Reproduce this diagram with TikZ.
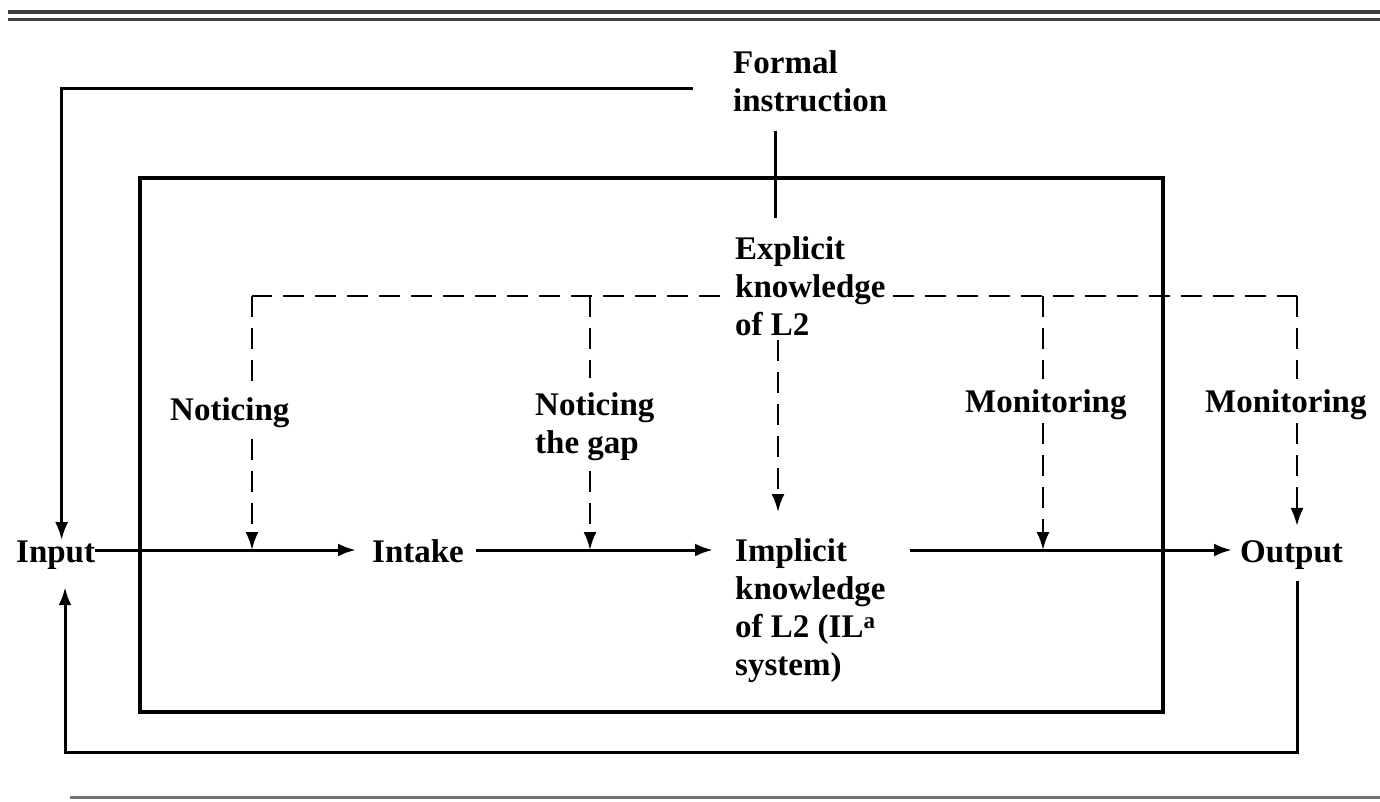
\documentclass[tikz,border=0pt]{standalone}
\usepackage{fontspec}
\setmainfont{Liberation Serif}
\usetikzlibrary{arrows.meta,calc}
\begin{document}
\begin{tikzpicture}[x=1pt,y=-1pt,
  txt/.style={font=\fontsize{33}{38}\selectfont\bfseries, inner sep=0pt, align=left, anchor=north west},
  btxt/.style={txt, anchor=base west},
  conn/.style={line width=3pt},
  arr/.style={-{Latex[length=18pt,width=13pt]}},
  dsh/.style={line width=2.4pt, dash pattern=on 21pt off 11pt},
  rule/.style={line width=4pt, black!75}
]
\useasboundingbox (0,0) rectangle (1380,802);
% rules
\draw[rule] (8,12) -- (1380,12);
\draw[rule, line width=3pt] (8,20) -- (1380,20);
\draw[rule, line width=3pt, black!55] (70,797) -- (1380,797);
% box
\draw[line width=3.5pt] (140,178) rectangle (1163,712);
% text nodes
\node[txt] (formal) at (733,50) {Formal\\instruction};
\node[txt] (explicit) at (735,236) {Explicit\\knowledge\\of L2};
\node[btxt] (input) at (16,562) {Input};
\node[btxt] (intake) at (372,562) {Intake};
\node[txt] (implicit) at (735,538) {Implicit\\knowledge\\of L2 (IL\textsuperscript{a}\\system)};
\node[btxt] (output) at (1240,562) {Output};
\node[btxt] (notice) at (170,420) {Noticing};
\node[txt] (gap) at (535,392) {Noticing\\the gap};
\node[btxt] (mon1) at (965,412) {Monitoring};
\node[btxt] (mon2) at (1205,412) {Monitoring};
% coordinates
\coordinate (ml) at (0,550);
\coordinate (d1) at (252,296);
\coordinate (d2) at (590,296);
\coordinate (d3) at (1043,296);
\coordinate (d4) at (1297,296);
\coordinate (fx) at (775,0);
\coordinate (ex) at (778,0);
\coordinate (ix) at (65,0);
\coordinate (fb) at (0,752);
% formal instruction
\draw[conn, arr, shorten <=40pt] ([yshift=-8pt]formal.west) -| ([xshift=6pt]input.north);
\draw[conn, shorten <=19pt, shorten >=18pt] (formal.south -| fx) -- (explicit.north -| fx);
% explicit knowledge dashed
\draw[dsh] (explicit.west |- d1) ++(-15,0) -- (d1);
\draw[dsh] (explicit.east |- d1) ++(7,0) -- (d4);
\draw[dsh, arr, shorten <=4pt, shorten >=26pt] (explicit.south -| ex) -- (implicit.north -| ex);
\draw[dsh] (d1) -- ([yshift=8pt]notice.north -| d1);
\draw[dsh, arr, shorten <=12pt] (notice.south -| d1) -- (d1 |- ml);
\draw[dsh] (d2) -- ([yshift=14pt]gap.north -| d2);
\draw[dsh, arr, shorten <=10pt] (gap.south -| d2) -- (d2 |- ml);
\draw[dsh] (d3) -- ([yshift=10pt]mon1.north -| d3);
\draw[dsh, arr, shorten <=4pt] (mon1.south -| d3) -- (d3 |- ml);
\draw[dsh] (d4) -- ([yshift=10pt]mon2.north -| d4);
\draw[dsh, arr, shorten <=4pt, shorten >=14pt] (mon2.south -| d4) -- (output.north -| d4);
% main line
\draw[conn, arr, shorten >=16pt] (input.east |- ml) -- (intake.west |- ml);
\draw[conn, arr, shorten <=12pt, shorten >=22pt] (intake.east |- ml) -- (implicit.west |- ml);
\draw[conn, arr, shorten <=24pt, shorten >=8pt] (explicit.east |- ml) -- (output.west |- ml);
% feedback
\draw[conn, arr, shorten <=12pt, shorten >=18pt] (output.south -| d4) |- (fb -| ix) -- (input.south -| ix);
\end{tikzpicture}
\end{document}
